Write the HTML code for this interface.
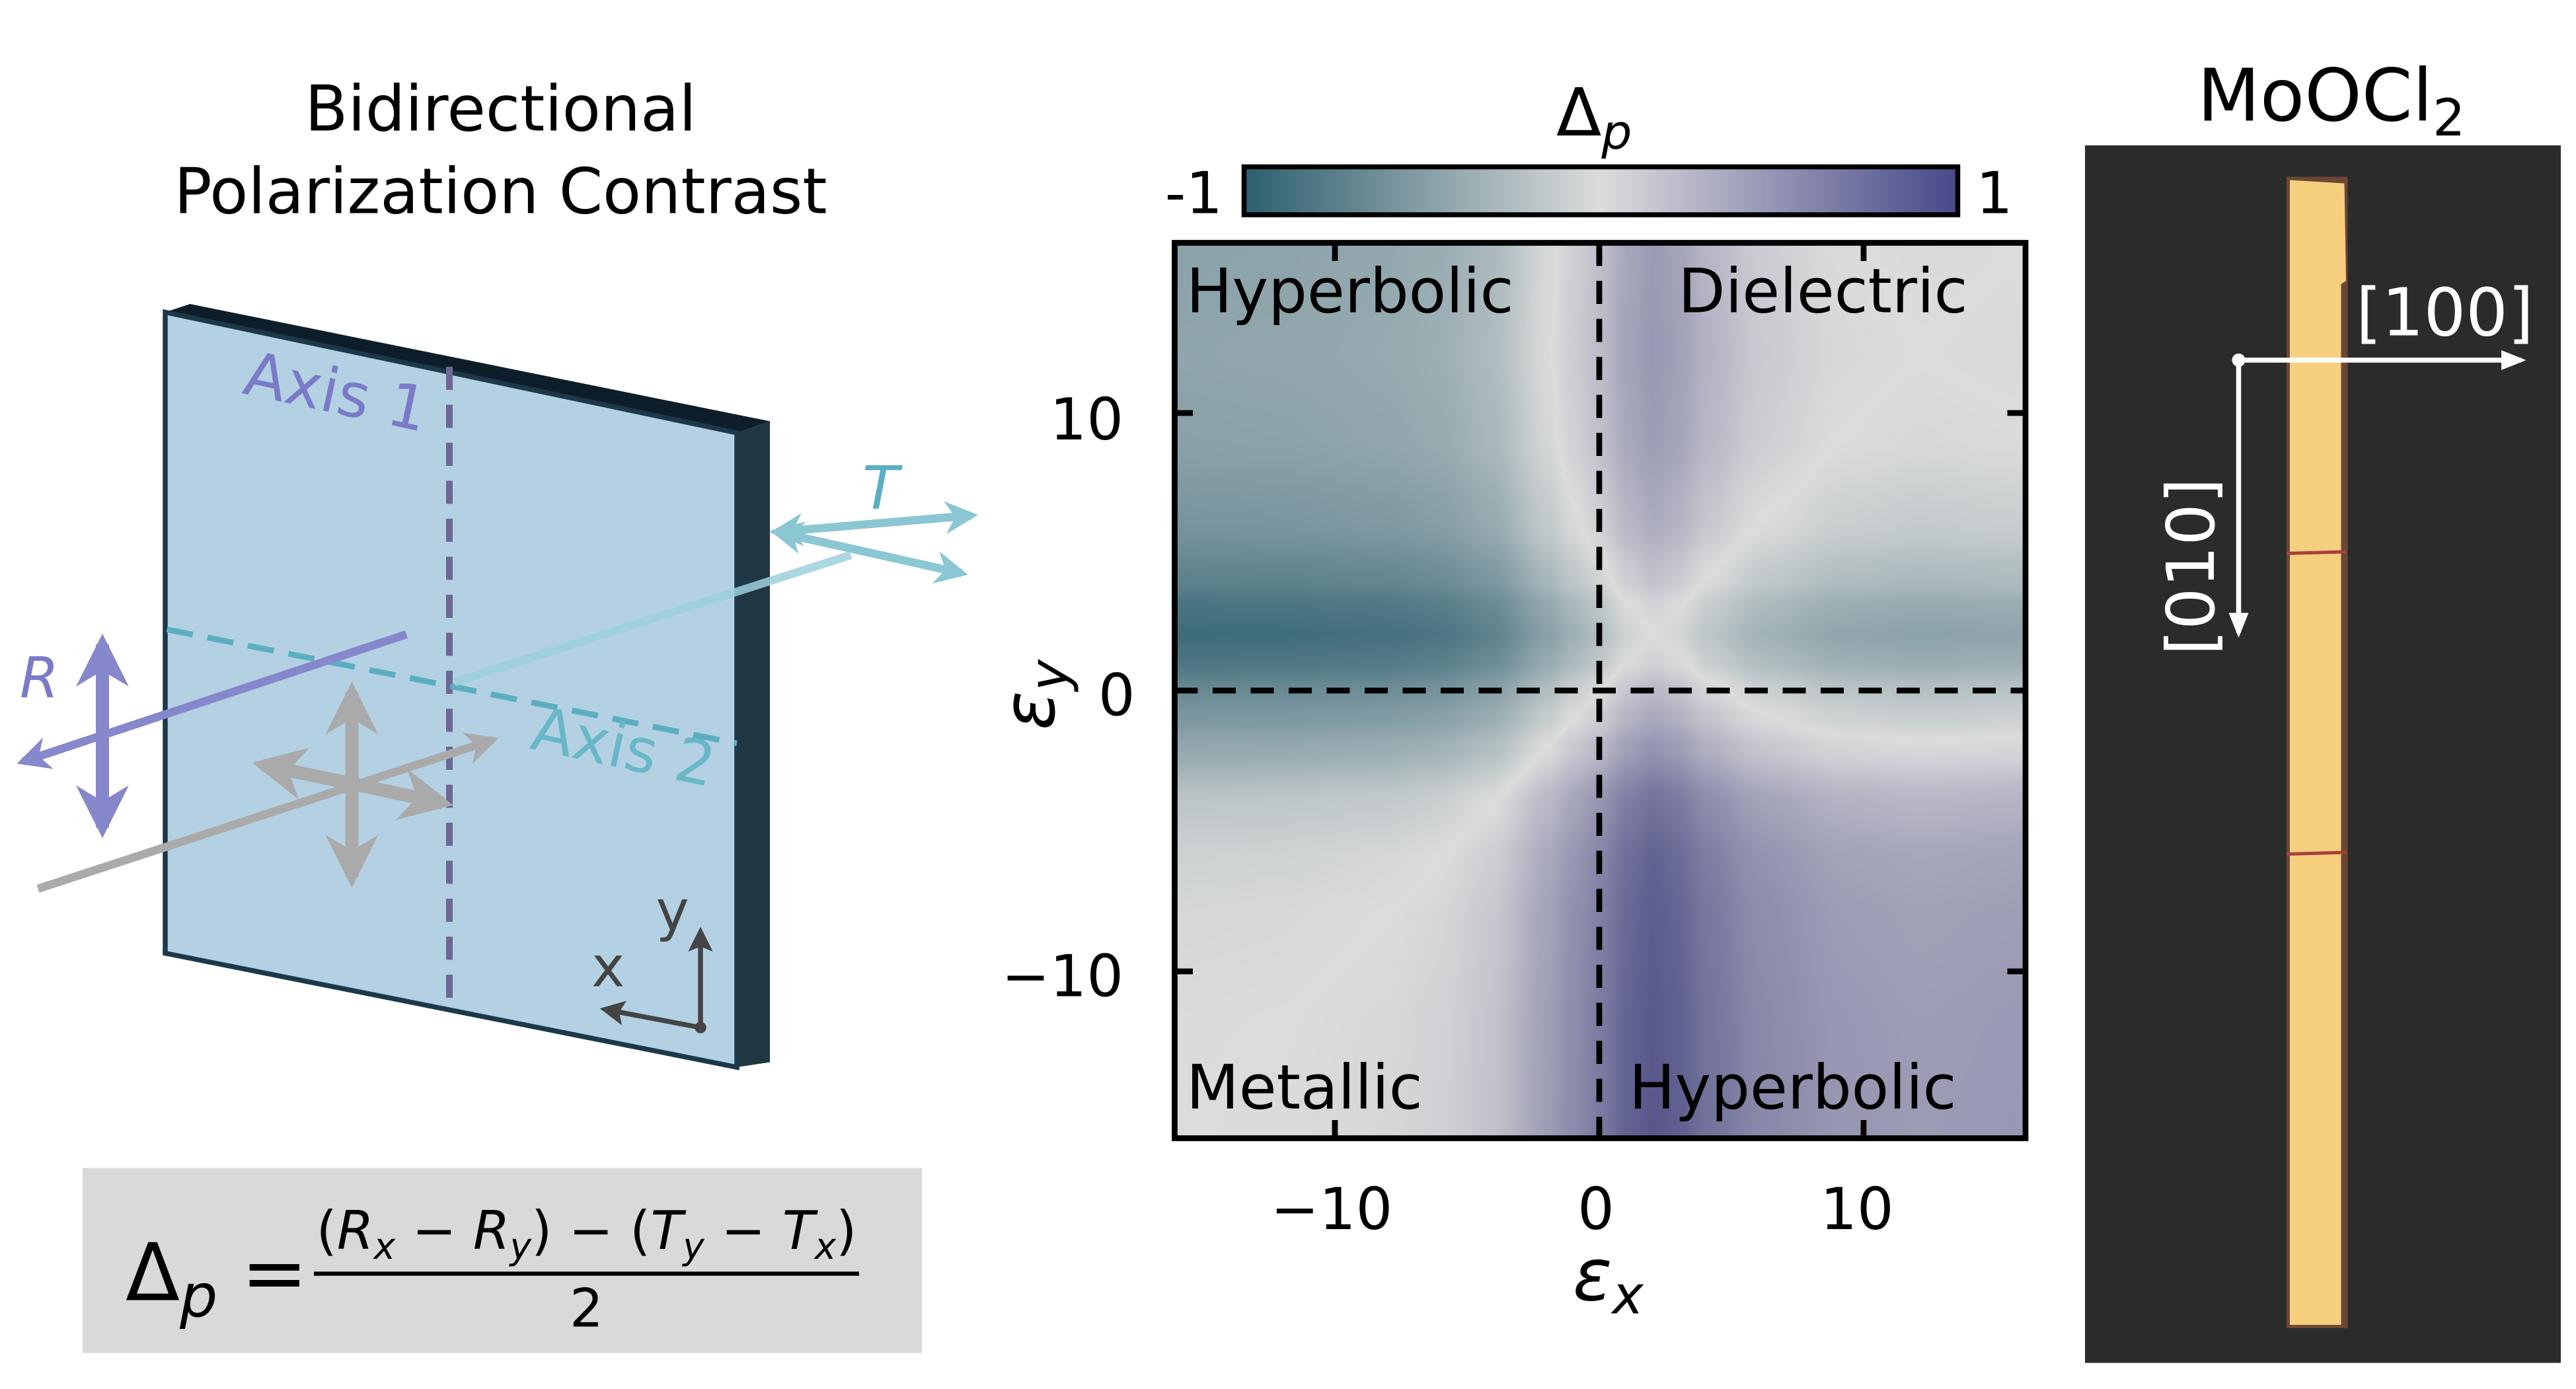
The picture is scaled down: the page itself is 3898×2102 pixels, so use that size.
<!DOCTYPE html>
<html><head><meta charset="utf-8">
<style>
html,body{margin:0;padding:0;background:#fff;}
#wrap{position:relative;width:3898px;height:2102px;overflow:hidden;background:#fff;}
#hm{position:absolute;left:1777.5px;top:367.5px;width:1287.5px;height:1355px;background:#c9c9d2;}
svg{position:absolute;left:0;top:0;}
text{font-family:"DejaVu Sans","Liberation Sans",sans-serif;}
</style></head><body>
<div id="wrap">
<canvas id="hm" width="1288" height="1355"></canvas>
<svg width="3898" height="2102" viewBox="0 0 1559.2 840.8">
<defs>
<linearGradient id="cb" x1="0" x2="1" y1="0" y2="0">
<stop offset="0" stop-color="#2d5f6e"/><stop offset="0.5" stop-color="#dcdcdc"/><stop offset="1" stop-color="#48488a"/>
</linearGradient>
<marker id="ab" viewBox="0 0 10 10" refX="8" refY="5" markerWidth="4" markerHeight="4" orient="auto-start-reverse"><path d="M0,0 L10,5 L0,10 L3,5 z" fill="#8787cc"/></marker>
<marker id="ag" viewBox="0 0 10 10" refX="8" refY="5" markerWidth="4" markerHeight="4" orient="auto-start-reverse"><path d="M0,0 L10,5 L0,10 L3,5 z" fill="#aaaaaa"/></marker>
<marker id="at" viewBox="0 0 10 10" refX="8" refY="5" markerWidth="4" markerHeight="4" orient="auto-start-reverse"><path d="M0,0 L10,5 L0,10 L3,5 z" fill="#8bc6d3"/></marker>
<marker id="ak" viewBox="0 0 10 10" refX="8" refY="5" markerWidth="5" markerHeight="5" orient="auto-start-reverse"><path d="M0,0 L10,5 L0,10 L2,5 z" fill="#444"/></marker>
<marker id="aw" viewBox="0 0 10 10" refX="8" refY="5" markerWidth="5" markerHeight="5" orient="auto-start-reverse"><path d="M0,1 L10,5 L0,9 z" fill="#fff"/></marker>
</defs>

<text x="303" y="79" font-size="38" text-anchor="middle">Bidirectional</text>
<text x="303" y="129" font-size="38" text-anchor="middle">Polarization Contrast</text>

<polygon points="100,189 115,184 466,255 446,262" fill="#0d1e2a"/>
<polygon points="446,262 466,255 466,643 446,646" fill="#203642"/>
<polygon points="100,189 446,262 446,646 100,577" fill="#b3d1e3" stroke="#1d3848" stroke-width="3"/>

<line x1="272" y1="222" x2="272" y2="608" stroke="#6b6892" stroke-width="4" stroke-dasharray="14,9"/>
<line x1="101" y1="381" x2="446" y2="450" stroke="#5aaec0" stroke-width="3.5" stroke-dasharray="16,9"/>
<text x="146" y="238" font-size="37" fill="#7b7ac8" transform="rotate(12 146 238)">Axis 1</text>
<text x="320" y="453" font-size="37" fill="#69b7c8" transform="rotate(12 320 453)">Axis 2</text>

<line x1="275" y1="413" x2="515" y2="336" stroke="#9dd0dc" stroke-width="5" opacity="0.85"/>
<line x1="470" y1="322" x2="588" y2="312" stroke="#8bc6d3" stroke-width="5" marker-start="url(#at)" marker-end="url(#at)"/>
<line x1="470" y1="322" x2="582" y2="347" stroke="#8bc6d3" stroke-width="5" marker-start="url(#at)" marker-end="url(#at)"/>
<text x="522" y="308" font-size="36" font-style="italic" fill="#5aaec0">T</text>

<line x1="246" y1="384" x2="14" y2="461" stroke="#8787cc" stroke-width="5" marker-end="url(#ab)"/>
<line x1="62" y1="390" x2="62" y2="501" stroke="#8787cc" stroke-width="8" marker-start="url(#ab)" marker-end="url(#ab)"/>
<text x="12" y="422" font-size="34" font-style="italic" fill="#7b7ac8">R</text>

<line x1="23" y1="538" x2="298" y2="448" stroke="#aaaaaa" stroke-width="5" marker-end="url(#ag)"/>
<line x1="213" y1="419" x2="213" y2="531" stroke="#aaaaaa" stroke-width="8" marker-start="url(#ag)" marker-end="url(#ag)"/>
<line x1="159" y1="463" x2="268" y2="486" stroke="#aaaaaa" stroke-width="8" marker-start="url(#ag)" marker-end="url(#ag)"/>

<line x1="424" y1="622" x2="424" y2="564" stroke="#444" stroke-width="3" marker-end="url(#ak)"/>
<line x1="424" y1="622" x2="366" y2="611" stroke="#444" stroke-width="3" marker-end="url(#ak)"/>
<circle cx="424" cy="622" r="3.5" fill="#444"/>
<text x="397" y="563" font-size="34" fill="#444">y</text>
<text x="358" y="597" font-size="34" fill="#444">x</text>

<rect x="50" y="707" width="508" height="112" fill="#d9d9d9"/>
<text x="76" y="787" font-size="48">Δ<tspan font-style="italic" font-size="36" dy="10">p</tspan></text>
<text x="146" y="787" font-size="48">=</text>
<line x1="190" y1="771" x2="520" y2="771" stroke="#000" stroke-width="2.5"/>
<text x="355" y="756" font-size="32" text-anchor="middle">(<tspan font-style="italic">R</tspan><tspan font-style="italic" font-size="22" dy="6">x</tspan><tspan dy="-6"> − </tspan><tspan font-style="italic">R</tspan><tspan font-style="italic" font-size="22" dy="6">y</tspan><tspan dy="-6">) − (</tspan><tspan font-style="italic">T</tspan><tspan font-style="italic" font-size="22" dy="6">y</tspan><tspan dy="-6"> − </tspan><tspan font-style="italic">T</tspan><tspan font-style="italic" font-size="22" dy="6">x</tspan><tspan dy="-6">)</tspan></text>
<text x="355" y="803" font-size="32" text-anchor="middle">2</text>

<text x="942" y="82" font-size="40">Δ<tspan font-style="italic" font-size="29" dy="8">p</tspan></text>
<rect x="753" y="101" width="432" height="29" fill="url(#cb)" stroke="#000" stroke-width="3"/>
<text x="740" y="129" font-size="35" text-anchor="end">-1</text>
<text x="1196" y="129" font-size="35">1</text>

<g stroke="#000" stroke-width="3.5" stroke-dasharray="14,9">
<line x1="968" y1="147" x2="968" y2="689"/>
<line x1="711" y1="418" x2="1226" y2="418"/>
</g>
<g stroke="#000" stroke-width="3.5">
<line x1="808" y1="147" x2="808" y2="158"/><line x1="968" y1="147" x2="968" y2="158"/><line x1="1128" y1="147" x2="1128" y2="158"/>
<line x1="808" y1="689" x2="808" y2="678"/><line x1="968" y1="689" x2="968" y2="678"/><line x1="1128" y1="689" x2="1128" y2="678"/>
<line x1="711" y1="250" x2="722" y2="250"/><line x1="711" y1="588" x2="722" y2="588"/>
<line x1="1226" y1="250" x2="1215" y2="250"/><line x1="1226" y1="588" x2="1215" y2="588"/>
</g>
<rect x="711" y="147" width="515" height="542" fill="none" stroke="#000" stroke-width="3.5"/>

<text x="718" y="189" font-size="37">Hyperbolic</text>
<text x="1191" y="189" font-size="37" text-anchor="end">Dielectric</text>
<text x="718" y="671" font-size="37">Metallic</text>
<text x="986" y="671" font-size="37">Hyperbolic</text>

<text x="680" y="266" font-size="35" text-anchor="end">10</text>
<text x="687" y="433" font-size="35" text-anchor="end">0</text>
<text x="680" y="603" font-size="35" text-anchor="end">−10</text>
<text x="806" y="744" font-size="35" text-anchor="middle">−10</text>
<text x="966" y="744" font-size="35" text-anchor="middle">0</text>
<text x="1124" y="744" font-size="35" text-anchor="middle">10</text>
<text x="952" y="787" font-size="44" font-style="italic">ε<tspan font-size="32" dy="8">x</tspan></text>
<text transform="translate(638,442) rotate(-90)" font-size="44" font-style="italic">ε<tspan font-size="32" dy="8">y</tspan></text>

<text x="1330" y="73" font-size="44">MoOCl<tspan font-size="31" dy="9">2</tspan></text>
<rect x="1262" y="88" width="288" height="737" fill="#2a2b2b"/>
<rect x="1384" y="107" width="37" height="697" fill="#9a5a3a" opacity="0.6"/>
<polygon points="1386,109 1419,111 1420,170 1417,172 1417,802 1386,802" fill="#f6cf7e"/>
<line x1="1384" y1="335" x2="1420" y2="334" stroke="#a8403a" stroke-width="2"/>
<line x1="1384" y1="517" x2="1420" y2="516" stroke="#a8403a" stroke-width="2"/>
<line x1="1355" y1="218" x2="1526" y2="218" stroke="#fff" stroke-width="3" marker-end="url(#aw)"/>
<line x1="1355" y1="218" x2="1355" y2="383" stroke="#fff" stroke-width="3" marker-end="url(#aw)"/>
<circle cx="1355" cy="218" r="4" fill="#fff"/>
<text x="1426" y="203" font-size="40" fill="#fff">[100]</text>
<text transform="translate(1340,343) rotate(-90)" font-size="40" fill="#fff" text-anchor="middle">[010]</text>
</svg>
</div>
<script>
(function(){
var c=document.getElementById('hm');var ctx=c.getContext('2d');
var W=c.width,H=c.height;var img=ctx.createImageData(W,H);var d=img.data;
var E=[-16,-12,-8,-6,-4,-2,-1,0,1,2,3,4,6,9,12,16];
var V=[0,0.01,0.04,0.08,0.18,0.42,0.55,0.66,0.82,0.9,0.84,0.72,0.57,0.47,0.44,0.46];
function h(e){if(e<=E[0])return V[0];for(var i=0;i<E.length-1;i++){if(e<=E[i+1]){var t=(e-E[i])/(E[i+1]-E[i]);t=t*t*(3-2*t)*0.5+t*0.5;return V[i]+(V[i+1]-V[i])*t;}}return V[V.length-1];}
var hx=[];for(var i=0;i<W;i++){hx.push(h(-16+32*(i+0.5)/W));}
var hy=[];for(var j=0;j<H;j++){hy.push(h(16-32*(j+0.5)/H));}
var neg=[45,95,110],mid=[220,220,220],pos=[72,72,130];
for(var j=0;j<H;j++){for(var i=0;i<W;i++){var f=hx[i]-hy[j];if(f>1)f=1;if(f<-1)f=-1;var a=f<0?neg:pos,t=Math.abs(f);var k=(j*W+i)*4;
d[k]=mid[0]+(a[0]-mid[0])*t;d[k+1]=mid[1]+(a[1]-mid[1])*t;d[k+2]=mid[2]+(a[2]-mid[2])*t;d[k+3]=255;}}
ctx.putImageData(img,0,0);
})();
</script>
</body></html>
